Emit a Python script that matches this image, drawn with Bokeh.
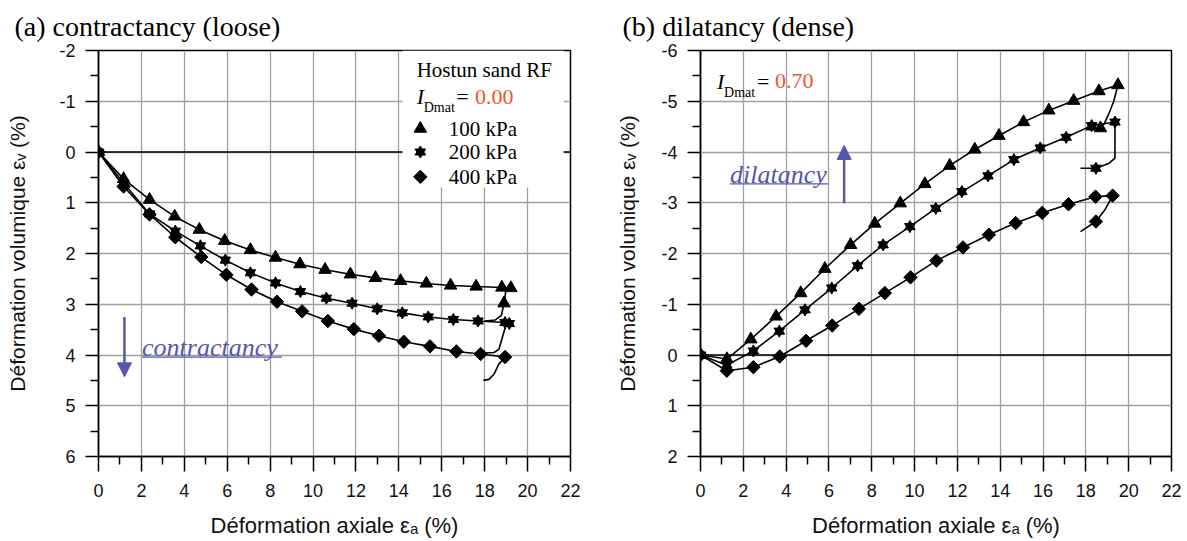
import math
from bokeh.plotting import figure
from bokeh.layouts import row
from bokeh.models import Range1d, Span, BoxAnnotation, Label, FixedTicker, Arrow, NormalHead
from bokeh.embed import file_html
from bokeh.resources import INLINE

# ---------------- data ----------------
x_ticks = [0, 2, 4, 6, 8, 10, 12, 14, 16, 18, 20, 22]
x_tick_labels = ["0", "2", "4", "6", "8", "10", "12", "14", "16", "18", "20", "22"]
a_y_ticks = [-2, -1, 0, 1, 2, 3, 4, 5, 6]
a_y_tick_labels = ["-2", "-1", "0", "1", "2", "3", "4", "5", "6"]
b_y_ticks = [-6, -5, -4, -3, -2, -1, 0, 1, 2]
b_y_tick_labels = ["-6", "-5", "-4", "-3", "-2", "-1", "0", "1", "2"]
series_names = ["100 kPa", "200 kPa", "400 kPa"]

# (a) loose, I_Dmat = 0.00
a100_x = [0, 1.17, 2.38, 3.55, 4.70, 5.88, 7.08, 8.25, 9.39, 10.56, 11.74, 12.91, 14.08, 15.28, 16.41, 17.60, 18.80, 19.22]
a100_y = [0, 0.53, 0.94, 1.27, 1.53, 1.75, 1.93, 2.08, 2.21, 2.32, 2.41, 2.48, 2.54, 2.59, 2.63, 2.65, 2.67, 2.68]
a100_un_x = [19.0, 18.9, 18.78, 18.5, 18.0]
a100_un_y = [2.70, 2.98, 3.22, 3.31, 3.33]
a100_un_mk_x = [18.9]
a100_un_mk_y = [2.98]

a200_x = [0, 1.17, 2.38, 3.58, 4.75, 5.91, 7.08, 8.25, 9.41, 10.62, 11.82, 12.99, 14.16, 15.37, 16.54, 17.69, 18.95, 19.15]
a200_y = [0, 0.61, 1.22, 1.56, 1.85, 2.13, 2.38, 2.58, 2.75, 2.88, 2.98, 3.09, 3.17, 3.25, 3.30, 3.33, 3.36, 3.38]
a200_un_x = [19.0, 18.82, 18.66, 18.43, 18.0]
a200_un_y = [3.40, 3.66, 3.89, 3.95, 3.96]
a200_un_mk_x = []
a200_un_mk_y = []

a400_x = [0, 1.17, 2.38, 3.58, 4.79, 5.96, 7.13, 8.32, 9.49, 10.69, 11.90, 13.07, 14.23, 15.45, 16.68, 17.81, 18.95]
a400_y = [0, 0.68, 1.23, 1.68, 2.07, 2.42, 2.71, 2.95, 3.14, 3.33, 3.49, 3.62, 3.74, 3.83, 3.93, 3.98, 4.04]
a400_un_x = [18.66, 18.43, 18.2, 17.94]
a400_un_y = [4.18, 4.38, 4.48, 4.50]
a400_un_mk_x = []
a400_un_mk_y = []

# (b) dense, I_Dmat = 0.70
b100_x = [0, 1.23, 2.35, 3.53, 4.68, 5.81, 7.01, 8.14, 9.33, 10.48, 11.64, 12.81, 13.94, 15.09, 16.27, 17.43, 18.61, 19.50]
b100_y = [0, 0.08, -0.31, -0.76, -1.22, -1.70, -2.17, -2.59, -2.99, -3.37, -3.73, -4.05, -4.32, -4.59, -4.82, -5.01, -5.20, -5.32]
b100_un_x = [19.3, 19.08, 18.85, 18.68, 18.4, 18.0]
b100_un_y = [-5.00, -4.76, -4.55, -4.47, -4.44, -4.44]
b100_un_mk_x = [18.68]
b100_un_mk_y = [-4.47]

b200_x = [0, 1.23, 2.47, 3.68, 4.88, 6.13, 7.34, 8.53, 9.78, 10.99, 12.21, 13.43, 14.64, 15.87, 17.08, 18.27, 19.36]
b200_y = [0, 0.20, -0.08, -0.47, -0.89, -1.32, -1.76, -2.17, -2.53, -2.89, -3.22, -3.53, -3.85, -4.08, -4.29, -4.52, -4.59]
b200_un_x = [19.36, 19.09, 18.47, 17.75]
b200_un_y = [-3.88, -3.78, -3.68, -3.68]
b200_un_mk_x = [18.47]
b200_un_mk_y = [-3.68]

b400_x = [0, 1.23, 2.47, 3.70, 4.93, 6.15, 7.40, 8.61, 9.81, 11.02, 12.26, 13.47, 14.72, 15.96, 17.19, 18.45, 19.25]
b400_y = [0, 0.31, 0.24, 0.03, -0.28, -0.58, -0.91, -1.22, -1.53, -1.86, -2.12, -2.37, -2.60, -2.80, -2.97, -3.12, -3.14]
b400_un_x = [18.89, 18.47, 17.75]
b400_un_y = [-2.86, -2.63, -2.43]
b400_un_mk_x = [18.47]
b400_un_mk_y = [-2.63]

# ---------------- style ----------------
SERIF = "Liberation Serif"
SANS = "Liberation Sans"
BLUE = "#5656AA"
ORANGE = "#F0542C"
GRID = "#A0A0A0"
H = 541


def draw_marker(p, x, y, kind):
    if not x:
        return
    if kind == "triangle":
        p.scatter(x, y, marker="triangle", size=12.5, fill_color="black", line_color="black")
    elif kind == "star":
        p.scatter(x, y, marker="triangle", size=10.5, fill_color="black", line_color="black")
        p.scatter(x, y, marker="inverted_triangle", size=10.5, fill_color="black", line_color="black")
    else:
        p.scatter(x, y, marker="square", angle=math.pi / 4, size=9.5, fill_color="black", line_color="black")


def draw_series(p, x, y, ux, uy, mx, my, kind):
    p.line(x + ux, y + uy, line_color="black", line_width=1.6)
    draw_marker(p, x, y, kind)
    draw_marker(p, mx, my, kind)


def base_fig(width, bleft, bright, ybottom, ytop, yticks, ylabels, title, toffset, ystand):
    p = figure(width=width, height=H, x_range=Range1d(0, 22), y_range=Range1d(ybottom, ytop),
               output_backend="svg", toolbar_location=None, title=title,
               min_border_left=bleft, min_border_right=bright, min_border_top=50, min_border_bottom=85)
    p.title.align = "left"
    p.title.offset = toffset
    p.title.standoff = 17
    p.title.text_font = SERIF
    p.title.text_font_size = "28px"
    p.title.text_font_style = "normal"
    p.title.text_color = "black"
    p.outline_line_color = "black"
    p.outline_line_width = 1.5
    p.outline_line_alpha = 1.0

    x_minor = [t + 1 for t in x_ticks[:-1]]
    y_minor = [t + 0.5 for t in yticks[:-1]]
    p.xaxis.ticker = FixedTicker(ticks=x_ticks, minor_ticks=x_minor)
    p.yaxis.ticker = FixedTicker(ticks=yticks, minor_ticks=y_minor)
    p.xaxis.major_label_overrides = {t: s for t, s in zip(x_ticks, x_tick_labels)}
    p.yaxis.major_label_overrides = {t: s for t, s in zip(yticks, ylabels)}
    for ax in (p.xaxis[0], p.yaxis[0]):
        ax.axis_line_color = "black"
        ax.axis_line_width = 1.5
        ax.major_tick_line_color = "black"
        ax.major_tick_line_width = 1.5
        ax.minor_tick_line_color = "black"
        ax.minor_tick_line_width = 1.5
        ax.major_tick_in = 0
        ax.minor_tick_in = 0
        ax.major_label_text_font = SANS
        ax.major_label_text_font_size = "18px"
        ax.major_label_text_color = "#111111"
        ax.axis_label_text_font = SANS
        ax.axis_label_text_font_style = "normal"
        ax.axis_label_text_color = "#111111"
    p.xaxis.axis_label_text_font_size = "22px"
    p.yaxis.axis_label_text_font_size = "21px"
    p.xaxis.major_tick_out = 15
    p.xaxis.minor_tick_out = 8
    p.yaxis.major_tick_out = 13
    p.yaxis.minor_tick_out = 8
    p.xaxis.major_label_standoff = 12
    p.yaxis.major_label_standoff = 10
    p.xaxis.axis_label = "Déformation axiale εₐ (%)"
    p.yaxis.axis_label = "Déformation volumique εᵥ (%)"
    p.xaxis.axis_label_standoff = 13
    p.yaxis.axis_label_standoff = ystand

    p.xgrid.grid_line_color = GRID
    p.ygrid.grid_line_color = GRID
    p.xgrid.grid_line_width = 1.3
    p.ygrid.grid_line_width = 1.3

    p.add_layout(Span(location=0, dimension="width", line_color="black", line_width=1.6, level="underlay"))
    return p


def idmat(p, x, y, val, dx_sub, dx_eq, dx_val, dy_sub):
    p.add_layout(Label(x=x, y=y, text="I", text_font=SERIF, text_font_size="22px", text_font_style="italic",
                       text_baseline="middle", text_align="left", text_color="black"))
    p.add_layout(Label(x=x + dx_sub, y=y + dy_sub, text="Dmat", text_font=SERIF, text_font_size="14px",
                       text_baseline="middle", text_align="left", text_color="black"))
    p.add_layout(Label(x=x + dx_eq, y=y, text="=", text_font=SERIF, text_font_size="22px",
                       text_baseline="middle", text_align="left", text_color="black"))
    p.add_layout(Label(x=x + dx_val, y=y, text=val, text_font=SERIF, text_font_size="22px",
                       text_baseline="middle", text_align="left", text_color=ORANGE))


# ---------------- (a) ----------------
pa = base_fig(600, 98, 30, 6, -2, a_y_ticks, a_y_tick_labels, "(a) contractancy (loose)", -84, 27)

# legend box hiding grid
pa.add_layout(BoxAnnotation(left=14.17, right=21.68, top=-2, bottom=0.70, fill_color="white", fill_alpha=1.0,
                            line_alpha=0, level="underlay"))

draw_series(pa, a100_x, a100_y, a100_un_x, a100_un_y, a100_un_mk_x, a100_un_mk_y, "triangle")
draw_series(pa, a200_x, a200_y, a200_un_x, a200_un_y, a200_un_mk_x, a200_un_mk_y, "star")
draw_series(pa, a400_x, a400_y, a400_un_x, a400_un_y, a400_un_mk_x, a400_un_mk_y, "diamond")

pa.add_layout(Label(x=14.83, y=-1.61, text="Hostun sand RF", text_font=SERIF, text_font_size="21px",
                    text_baseline="middle", text_align="left", text_color="black"))
idmat(pa, 14.83, -1.09, "0.00", 0.33, 1.85, 2.72, 0.22)
for ky, kind, name in zip([-0.46, 0.0, 0.49], ["triangle", "star", "diamond"], series_names):
    draw_marker(pa, [15.0], [ky], kind)
    pa.add_layout(Label(x=16.33, y=ky, text=name, text_font=SERIF, text_font_size="21px",
                        text_baseline="middle", text_align="left", text_color="black"))

pa.add_layout(Arrow(end=NormalHead(size=14, fill_color=BLUE, line_color=BLUE), x_start=1.21, y_start=3.25,
                    x_end=1.21, y_end=4.43, line_color=BLUE, line_width=2.5))
pa.add_layout(Label(x=2.03, y=3.85, text="contractancy", text_font=SERIF, text_font_size="26px",
                    text_font_style="italic", text_baseline="middle", text_align="left", text_color=BLUE))
pa.segment(x0=[2.03], y0=[4.04], x1=[8.55], y1=[4.04], line_color=BLUE, line_width=1.3)

# ---------------- (b) ----------------
pb = base_fig(587, 100, 16, 2, -6, b_y_ticks, b_y_tick_labels, "(b) dilatancy (dense)", -78, 19)

draw_series(pb, b100_x, b100_y, b100_un_x, b100_un_y, b100_un_mk_x, b100_un_mk_y, "triangle")
draw_series(pb, b200_x, b200_y, b200_un_x, b200_un_y, b200_un_mk_x, b200_un_mk_y, "star")
draw_series(pb, b400_x, b400_y, b400_un_x, b400_un_y, b400_un_mk_x, b400_un_mk_y, "diamond")

idmat(pb, 0.77, -5.39, "0.70", 0.33, 2.64 - 0.77, 3.48 - 0.77, 0.22)

pb.add_layout(Arrow(end=NormalHead(size=14, fill_color=BLUE, line_color=BLUE), x_start=6.71, y_start=-2.99,
                    x_end=6.71, y_end=-4.13, line_color=BLUE, line_width=2.5))
pb.add_layout(Label(x=1.38, y=-3.55, text="dilatancy", text_font=SERIF, text_font_size="26px",
                    text_font_style="italic", text_baseline="middle", text_align="left", text_color=BLUE))
pb.segment(x0=[1.38], y0=[-3.37], x1=[5.95], y1=[-3.37], line_color=BLUE, line_width=1.3)

layout = row(pa, pb)
open("out.html", "w").write(file_html(layout, INLINE))
